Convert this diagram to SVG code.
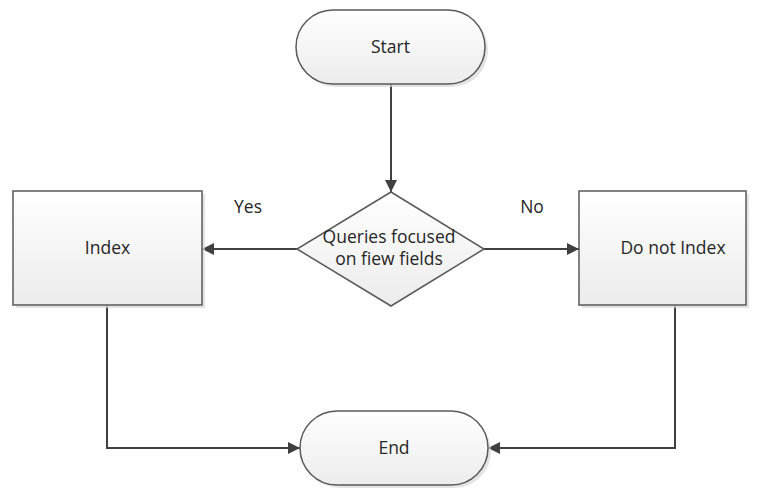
<svg xmlns="http://www.w3.org/2000/svg" width="760" height="491" viewBox="0 0 760 491">
  <style>
    .shape { fill: url(#fillGrad); stroke: #5a5a5a; stroke-width: 1.5; }
    .shadow { fill: #d9d9d9; opacity: 0.7; }
    .label { font-family: "Open Sans", "DejaVu Sans", sans-serif; font-size: 17.5px; fill: #262626; text-anchor: middle; }
    .edge { fill: none; stroke: #404040; stroke-width: 2; }
  </style>
  <defs>
    <linearGradient id="fillGrad" x1="0" y1="0" x2="0" y2="1">
      <stop offset="0" stop-color="#ffffff"/>
      <stop offset="1" stop-color="#ececec"/>
    </linearGradient>
    <marker id="arrow" viewBox="0 0 12 12" refX="12" refY="6" markerWidth="12" markerHeight="12" markerUnits="userSpaceOnUse" orient="auto">
      <path d="M0,0 L12,6 L0,12 Z" fill="#404040"/>
    </marker>
  </defs>
  <rect width="760" height="491" fill="#ffffff"/>

  <g id="edges">
    <path class="edge" d="M391,84 V192" marker-end="url(#arrow)"/>
    <path class="edge" d="M297,249 H202" marker-end="url(#arrow)"/>
    <path class="edge" d="M484,249 H579" marker-end="url(#arrow)"/>
    <path class="edge" d="M107,305 V448 H300" marker-end="url(#arrow)"/>
    <path class="edge" d="M675,305 V448 H488" marker-end="url(#arrow)"/>
  </g>

  <g id="start">
    <rect class="shadow" x="299" y="13" width="189" height="74" rx="37"/>
    <rect class="shape" x="296" y="10" width="189" height="74" rx="37"/>
    <text class="label" x="390.5" y="53">Start</text>
  </g>

  <g id="decision">
    <polygon class="shape" points="391,192 484,249 391,306 297,249"/>
    <text class="label" x="389" y="243">Queries focused</text>
    <text class="label" x="389" y="265">on fiew fields</text>
  </g>

  <g id="index">
    <rect class="shadow" x="16" y="194" width="189" height="114"/>
    <rect class="shape" x="13" y="191" width="189" height="114"/>
    <text class="label" x="107.5" y="254">Index</text>
  </g>

  <g id="do-not-index">
    <rect class="shadow" x="582" y="194" width="167" height="114"/>
    <rect class="shape" x="579" y="191" width="167" height="114"/>
    <text class="label" x="673" y="254">Do not Index</text>
  </g>

  <g id="end">
    <rect class="shadow" x="303" y="414" width="188" height="74" rx="37"/>
    <rect class="shape" x="300" y="411" width="188" height="74" rx="37"/>
    <text class="label" x="394" y="454">End</text>
  </g>

  <g id="edge-labels">
    <text class="label" x="248" y="213">Yes</text>
    <text class="label" x="532" y="213">No</text>
  </g>
</svg>
